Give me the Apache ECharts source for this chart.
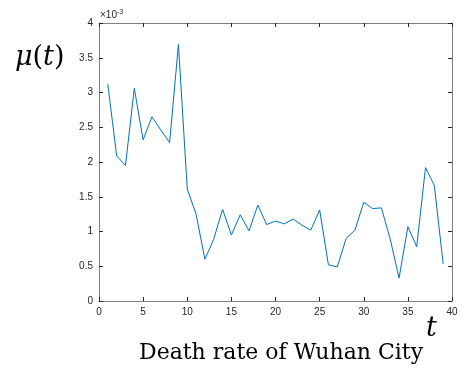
<!DOCTYPE html>
<html>
<head>
<meta charset="utf-8">
<script src="https://cdn.jsdelivr.net/npm/echarts@6/dist/echarts.min.js"></script>
<style>
  html, body { margin: 0; padding: 0; background: #fff; }
  #chart { width: 469px; height: 372px; }
</style>
</head>
<body>
<div id="chart"></div>
<script>
// Day index t
const days = [1,2,3,4,5,6,7,8,9,10,11,12,13,14,15,16,17,18,19,20,21,22,23,24,25,26,27,28,29,30,31,32,33,34,35,36,37,38,39];
// Death rate mu(t), in units of 1e-3
const deathRate = [3.12,2.09,1.95,3.06,2.32,2.65,2.46,2.28,3.69,1.61,1.25,0.60,0.89,1.32,0.95,1.24,1.01,1.38,1.10,1.15,1.11,1.18,1.09,1.02,1.31,0.52,0.49,0.90,1.02,1.42,1.33,1.34,0.89,0.33,1.07,0.78,1.92,1.66,0.53];
// Axis ticks
const xTicks = { min: 0, max: 40, step: 5 };
const yTicks = { min: 0, max: 4, step: 0.5 };

const labelColor = '#262626';
const frameColor = '#7f7f7f';
const fontSans = 'Liberation Sans, Arial, sans-serif';
const fontSerif = '"DejaVu Serif", serif';

const chart = echarts.init(document.getElementById('chart'), null, { renderer: 'canvas' });

const frameAxis = (showLabels) => ({
  axisLine: { show: true, onZero: false, lineStyle: { color: frameColor, width: 1 } },
  axisTick: { show: true, inside: true, length: 4, lineStyle: { color: labelColor, width: 1 } },
  splitLine: { show: false },
  axisLabel: { show: showLabels, color: labelColor, fontSize: 10, fontFamily: fontSans, margin: 6 }
});

chart.setOption({
  animation: false,
  backgroundColor: '#fff',
  grid: { left: 99, right: 17, top: 23, bottom: 71 },
  xAxis: [
    Object.assign({ type: 'value', position: 'bottom', min: xTicks.min, max: xTicks.max, interval: xTicks.step }, frameAxis(true)),
    Object.assign({ type: 'value', position: 'top', min: xTicks.min, max: xTicks.max, interval: xTicks.step }, frameAxis(false))
  ],
  yAxis: [
    Object.assign({ type: 'value', position: 'left', min: yTicks.min, max: yTicks.max, interval: yTicks.step }, frameAxis(true)),
    Object.assign({ type: 'value', position: 'right', min: yTicks.min, max: yTicks.max, interval: yTicks.step }, frameAxis(false))
  ],
  series: [{
    type: 'line',
    xAxisIndex: 0,
    yAxisIndex: 0,
    data: days.map((d, i) => [d, deathRate[i]]),
    showSymbol: false,
    symbol: 'none',
    lineStyle: { color: '#0072BD', width: 1 }
  }],
  graphic: [
    {
      type: 'text', left: 100, top: 9,
      style: {
        text: '×10{sup|-3}',
        font: '10px ' + fontSans,
        fill: labelColor,
        rich: { sup: { fontSize: 7, fontFamily: fontSans, fill: labelColor, verticalAlign: 'top', padding: [0, 0, 6, 0] } }
      }
    },
    {
      type: 'text', left: 15, top: 44,
      style: {
        text: '{i|μ}{r|(}{i|t}{r|)}',
        fill: '#000',
        rich: {
          i: { fontSize: 27, fontStyle: 'italic', fontFamily: fontSerif, fill: '#000' },
          r: { fontSize: 27, fontFamily: fontSerif, fill: '#000' }
        }
      }
    },
    {
      type: 'text', left: 426, top: 315,
      style: { text: 't', font: 'italic 27px ' + fontSerif, fill: '#000' }
    },
    {
      type: 'text', left: 139, top: 342,
      style: { text: 'Death rate of Wuhan City', font: '22px ' + fontSerif, fill: '#000' }
    }
  ]
});
</script>
</body>
</html>
